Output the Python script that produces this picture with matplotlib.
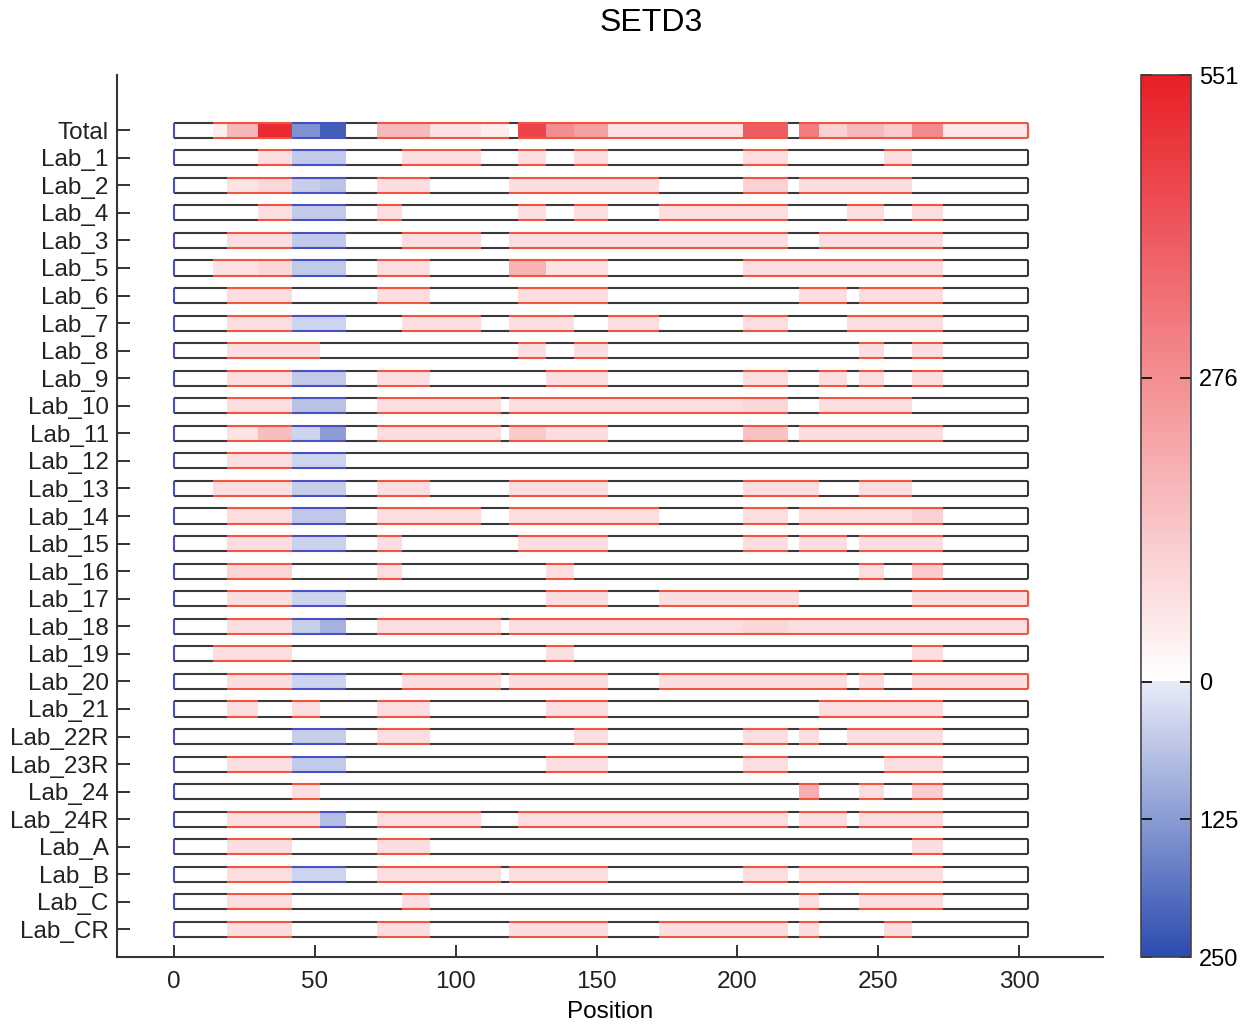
import numpy as np
import matplotlib
matplotlib.use("Agg")
import matplotlib.pyplot as plt
from matplotlib.colors import LinearSegmentedColormap, Normalize
from matplotlib.patches import Rectangle

plt.rcParams["font.family"] = ["Liberation Sans", "DejaVu Sans"]

# segment boundaries along the protein (residue position)
bounds = [0, 14, 19, 30, 42, 52, 61, 72, 81, 91, 109, 116, 119, 122, 132,
          142, 154, 172, 202, 218, 222, 229, 239, 243, 252, 262, 273, 303]

labs = ["Total", "Lab_1", "Lab_2", "Lab_4", "Lab_3", "Lab_5", "Lab_6", "Lab_7",
        "Lab_8", "Lab_9", "Lab_10", "Lab_11", "Lab_12", "Lab_13", "Lab_14",
        "Lab_15", "Lab_16", "Lab_17", "Lab_18", "Lab_19", "Lab_20", "Lab_21",
        "Lab_22R", "Lab_23R", "Lab_24", "Lab_24R", "Lab_A", "Lab_B", "Lab_C",
        "Lab_CR"]

# one value per segment (positive = red, negative = blue)
total = [0, 40, 180, 520, -140, -220, 0, 170, 170, 70, 45, 45, 0, 460, 280, 230, 70, 70, 400, 0, 320, 110, 170, 170, 130, 290, 60]
lab_1 = [0, 0, 0, 80, -50, -50, 0, 0, 80, 80, 0, 0, 0, 80, 0, 80, 0, 0, 80, 0, 0, 0, 0, 0, 80, 0, 0]
lab_2 = [0, 0, 70, 100, -45, -60, 0, 80, 80, 0, 0, 0, 80, 80, 80, 80, 80, 0, 110, 0, 80, 80, 80, 80, 80, 0, 0]
lab_4 = [0, 0, 0, 80, -50, -50, 0, 80, 0, 0, 0, 0, 0, 80, 0, 80, 0, 80, 80, 0, 0, 0, 80, 80, 0, 80, 0]
lab_3 = [0, 0, 80, 80, -50, -50, 0, 0, 80, 80, 0, 0, 80, 80, 80, 80, 80, 80, 80, 0, 0, 80, 80, 80, 80, 80, 0]
lab_5 = [0, 70, 70, 100, -50, -50, 0, 80, 80, 0, 0, 0, 190, 190, 70, 70, 0, 0, 80, 80, 80, 80, 80, 80, 80, 80, 0]
lab_6 = [0, 0, 80, 80, 0, 0, 0, 80, 80, 0, 0, 0, 0, 80, 80, 80, 0, 0, 0, 0, 80, 80, 0, 80, 80, 80, 0]
lab_7 = [0, 0, 80, 80, -35, -35, 0, 0, 80, 80, 0, 0, 80, 80, 80, 0, 80, 0, 80, 0, 0, 0, 80, 80, 80, 80, 0]
lab_8 = [0, 0, 80, 80, 80, 0, 0, 0, 0, 0, 0, 0, 0, 80, 0, 80, 0, 0, 0, 0, 0, 0, 0, 80, 0, 80, 0]
lab_9 = [0, 0, 80, 80, -50, -50, 0, 80, 80, 0, 0, 0, 0, 0, 80, 80, 0, 0, 80, 0, 0, 80, 0, 80, 0, 80, 0]
lab_10 = [0, 0, 80, 80, -65, -65, 0, 80, 80, 80, 80, 0, 80, 80, 80, 80, 80, 80, 100, 0, 0, 80, 80, 80, 80, 0, 0]
lab_11 = [0, 0, 70, 160, -35, -120, 0, 80, 80, 80, 80, 0, 130, 130, 80, 80, 0, 0, 150, 0, 80, 80, 80, 80, 80, 80, 0]
lab_12 = [0, 0, 80, 80, -35, -35, 0, 0, 0, 0, 0, 0, 0, 0, 0, 0, 0, 0, 0, 0, 0, 0, 0, 0, 0, 0, 0]
lab_13 = [0, 80, 80, 80, -45, -45, 0, 80, 80, 0, 0, 0, 80, 80, 80, 80, 0, 0, 80, 80, 80, 0, 0, 80, 80, 0, 0]
lab_14 = [0, 0, 80, 80, -55, -55, 0, 80, 80, 80, 0, 0, 80, 80, 80, 80, 80, 0, 80, 0, 80, 80, 80, 80, 80, 110, 0]
lab_15 = [0, 0, 80, 80, -40, -40, 0, 80, 0, 0, 0, 0, 0, 80, 80, 80, 0, 0, 80, 0, 80, 80, 0, 80, 80, 80, 0]
lab_16 = [0, 0, 100, 100, 0, 0, 0, 80, 0, 0, 0, 0, 0, 0, 80, 0, 0, 0, 0, 0, 0, 0, 0, 80, 0, 130, 0]
lab_17 = [0, 0, 80, 80, -35, -35, 0, 0, 0, 0, 0, 0, 0, 0, 80, 80, 0, 80, 80, 80, 0, 0, 0, 0, 0, 80, 80]
lab_18 = [0, 0, 80, 80, -45, -90, 0, 80, 80, 80, 80, 0, 80, 80, 80, 80, 80, 80, 100, 80, 80, 80, 80, 80, 80, 80, 80]
lab_19 = [0, 80, 80, 80, 0, 0, 0, 0, 0, 0, 0, 0, 0, 0, 80, 0, 0, 0, 0, 0, 0, 0, 0, 0, 0, 80, 0]
lab_20 = [0, 0, 80, 80, -35, -35, 0, 0, 80, 80, 80, 0, 80, 80, 80, 80, 0, 80, 80, 80, 80, 80, 0, 80, 0, 80, 80]
lab_21 = [0, 0, 80, 0, 80, 0, 0, 80, 80, 0, 0, 0, 0, 0, 80, 80, 0, 0, 0, 0, 0, 80, 80, 80, 80, 80, 0]
lab_22r = [0, 0, 0, 0, -45, -45, 0, 80, 80, 0, 0, 0, 0, 0, 0, 80, 0, 0, 80, 0, 80, 0, 80, 80, 80, 80, 0]
lab_23r = [0, 0, 80, 80, -50, -50, 0, 0, 0, 0, 0, 0, 0, 0, 80, 80, 0, 0, 80, 0, 0, 0, 0, 0, 80, 80, 0]
lab_24 = [0, 0, 0, 0, 80, 0, 0, 0, 0, 0, 0, 0, 0, 0, 0, 0, 0, 0, 0, 0, 200, 0, 0, 80, 0, 120, 0]
lab_24r = [0, 0, 80, 80, 80, -70, 0, 80, 80, 80, 0, 0, 0, 80, 80, 80, 80, 80, 80, 0, 80, 80, 0, 80, 80, 80, 0]
lab_a = [0, 0, 80, 80, 0, 0, 0, 80, 80, 0, 0, 0, 0, 0, 0, 0, 0, 0, 0, 0, 0, 0, 0, 0, 0, 80, 0]
lab_b = [0, 0, 80, 80, -35, -35, 0, 80, 80, 80, 80, 0, 80, 80, 80, 80, 0, 0, 80, 0, 80, 80, 80, 80, 80, 80, 0]
lab_c = [0, 0, 80, 80, 0, 0, 0, 0, 80, 0, 0, 0, 0, 0, 0, 0, 0, 0, 0, 0, 80, 0, 0, 80, 80, 80, 0]
lab_cr = [0, 0, 80, 80, 0, 0, 0, 80, 80, 0, 0, 0, 80, 80, 80, 80, 0, 80, 80, 0, 80, 0, 0, 0, 80, 0, 0]

rows = [total, lab_1, lab_2, lab_4, lab_3, lab_5, lab_6, lab_7, lab_8, lab_9,
        lab_10, lab_11, lab_12, lab_13, lab_14, lab_15, lab_16, lab_17, lab_18,
        lab_19, lab_20, lab_21, lab_22r, lab_23r, lab_24, lab_24r, lab_a, lab_b,
        lab_c, lab_cr]

vmin, vmax = -250, 551
cbar_ticks = [-250, -125, 0, 276, 551]
cbar_labels = ["250", "125", "0", "276", "551"]

# blue -> white -> red, white placed at zero
mid = -vmin / (vmax - vmin)
cmap = LinearSegmentedColormap.from_list(
    "bwr_shift",
    [(0.0, (0.17, 0.30, 0.69)), (mid - 0.001, (0.91, 0.92, 0.97)),
     (mid, (1.0, 1.0, 1.0)), (1.0, (0.91, 0.12, 0.15))])
norm = Normalize(vmin=vmin, vmax=vmax)

red_edge = "#f0553f"
blue_edge = "#4a4fc6"
zero_edge = "#3a3a3a"
bar_h = 0.55
lw = 1.5

fig = plt.figure(figsize=(12.49, 10.25), dpi=100)
ax = fig.add_axes([0.0937, 0.0663, 0.7895, 0.8605])

for i, vals in enumerate(rows):
    y0, y1 = i - bar_h / 2, i + bar_h / 2
    for j, v in enumerate(vals):
        x0, x1 = bounds[j], bounds[j + 1]
        if v > 0:
            edge = red_edge
        elif v < 0:
            edge = blue_edge
        else:
            edge = zero_edge
        if v != 0:
            ax.add_patch(Rectangle((x0, y0), x1 - x0, bar_h,
                                   facecolor=cmap(norm(v)), edgecolor="none",
                                   zorder=1))
        ax.hlines([y0, y1], x0, x1, colors=edge, lw=lw, zorder=2)
    ax.vlines(bounds[0], y0, y1, colors=blue_edge, lw=lw, zorder=3)
    right = red_edge if vals[-1] > 0 else zero_edge
    ax.vlines(bounds[-1], y0, y1, colors=right, lw=lw, zorder=3)

ax.set_xlim(-20.2, 329.8)
ax.set_ylim(30.0, -2.0)
ax.set_xticks([0, 50, 100, 150, 200, 250, 300])
ax.set_yticks(range(len(labs)))
ax.set_yticklabels(labs)
ax.set_xlabel("Position", fontsize=17.5, labelpad=6)
ax.tick_params(axis="both", direction="in", length=9, width=1.3,
               labelsize=17.5, colors="#222222")
ax.tick_params(axis="x", pad=10)
ax.tick_params(axis="y", pad=6)
for side in ["top", "right"]:
    ax.spines[side].set_visible(False)
for side in ["left", "bottom"]:
    ax.spines[side].set_linewidth(1.5)
    ax.spines[side].set_color("#333333")

fig.text(0.521, 0.978, "SETD3", ha="center", va="center", fontsize=23)

# colour scale
cax = fig.add_axes([0.9135, 0.0663, 0.040, 0.8605])
sm = plt.cm.ScalarMappable(norm=norm, cmap=cmap)
cbar = fig.colorbar(sm, cax=cax, ticks=cbar_ticks)
cbar.ax.set_yticklabels(cbar_labels)
cbar.ax.tick_params(direction="in", left=True, right=True, length=8,
                    width=1.2, labelsize=17, pad=6)
cbar.outline.set_edgecolor("#444444")
cbar.outline.set_linewidth(1.2)

fig.savefig("out.png", dpi=100)
